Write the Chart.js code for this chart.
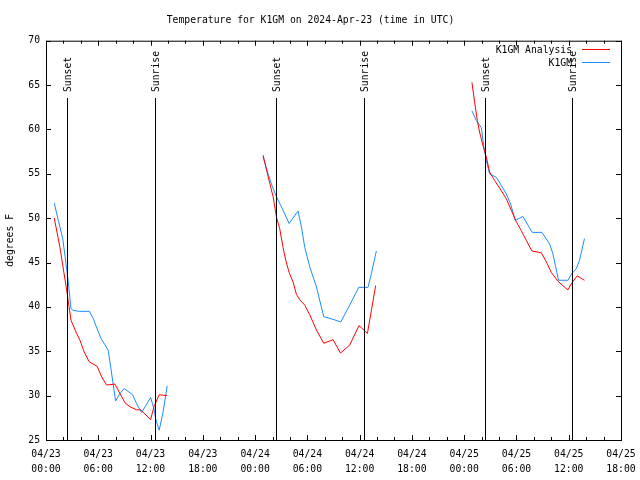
<!DOCTYPE html>
<html>
<head>
<meta charset="utf-8">
<script src="https://cdn.jsdelivr.net/npm/chart.js@4.4.1/dist/chart.umd.min.js"></script>
<style>
  html, body { margin: 0; background: #fff; }
  #wrap { width: 640px; height: 480px; }
</style>
</head>
<body>
<div id="wrap"><canvas id="tempChart" width="640" height="480"></canvas></div>
<script>
const FONT = '"DejaVu Sans Mono", monospace';

// time = hours since 04/23 00:00 UTC, null temp = gap between runs
const anaTimes = [0.95, 1.6, 2.37, 2.87, 3.52, 3.90, 4.39, 4.97, 5.88, 6.39, 6.96, 7.91, 8.49, 9.06, 9.63, 10.40, 10.86, 12.01, 12.39, 12.99, 13.91,
  18,
  24.92, 25.31, 25.69, 26.07, 26.46, 26.83, 27.21, 27.52, 27.90, 28.36, 28.75, 29.13, 29.70, 30.28, 31.04, 31.88, 32.95, 33.80, 34.86, 35.93, 36.89, 37.35, 37.84,
  44,
  48.89, 49.20, 49.51, 49.77, 50.15, 50.54, 50.92, 51.49, 52.26, 52.83, 53.41, 53.98, 54.55, 55.13, 55.77, 56.85, 57.42, 57.99, 58.75, 59.90, 60.29, 60.97, 61.81];
const anaTemps = [50.0, 46.7, 41.9, 38.5, 37.0, 36.25, 34.9, 33.8, 33.3, 32.1, 31.2, 31.3, 30.25, 29.2, 28.75, 28.4, 28.4, 27.3, 28.75, 30.1, 30.0,
  null,
  57.1, 55.45, 53.9, 52.4, 50.1, 48.8, 46.7, 45.25, 43.9, 42.8, 41.4, 40.8, 40.2, 39.1, 37.4, 35.9, 36.3, 34.8, 35.7, 37.9, 37.0, 39.6, 42.4,
  null,
  65.3, 63.05, 61.0, 59.7, 58.2, 56.9, 55.2, 54.25, 53.1, 52.2, 50.9, 49.6, 48.6, 47.5, 46.3, 46.1, 45.1, 43.9, 42.9, 41.9, 42.6, 43.5, 43.0];

const obsTimes = [0.95, 1.41, 1.92, 2.29, 2.56, 2.87, 3.13, 3.82, 4.97, 5.42, 6.0, 6.39, 6.85, 7.14, 7.42, 7.99, 8.49, 8.98, 9.94, 10.40, 10.97, 11.47, 12.01, 12.42, 12.58, 12.99, 13.45, 13.91,
  18,
  24.92, 25.49, 26.0, 26.46, 27.21, 27.90, 28.93, 29.32, 29.70, 30.28, 31.04, 31.88, 32.95, 33.83, 34.86, 35.89, 36.96, 37.35, 37.92,
  44,
  48.89, 49.39, 49.97, 50.26, 50.54, 50.92, 51.69, 52.26, 52.83, 53.33, 53.86, 54.74, 55.81, 56.92, 57.80, 58.18, 58.83, 59.90, 60.36, 60.86, 61.24, 61.81];
const obsTemps = [51.7, 49.75, 47.7, 44.9, 42.8, 39.8, 39.6, 39.5, 39.5, 38.7, 37.2, 36.3, 35.6, 35.1, 33.25, 29.4, 30.25, 30.8, 30.1, 29.1, 28.1, 28.9, 29.8, 28.4, 27.4, 26.1, 28.2, 31.1,
  null,
  56.9, 55.0, 53.5, 52.4, 50.9, 49.4, 50.8, 49.0, 46.7, 44.5, 42.25, 38.9, 38.6, 38.3, 40.2, 42.2, 42.2, 43.75, 46.3,
  null,
  62.1, 61.0, 60.2, 58.0, 56.5, 55.0, 54.6, 53.7, 52.75, 51.6, 49.75, 50.2, 48.4, 48.4, 47.1, 46.0, 43.0, 43.0, 43.75, 44.3, 45.25, 47.7];

const eventTimes = [2.44, 12.53, 26.41, 36.5, 50.38, 60.36];
const eventLabels = ['Sunset', 'Sunrise', 'Sunset', 'Sunrise', 'Sunset', 'Sunrise'];
const dayLabels = ['04/23', '04/24', '04/25'];
const seriesNames = ['K1GM Analysis', 'K1GM'];
const seriesColors = ['#ff0000', '#1a8cff'];

const toPoints = (times, temps) => times.map((t, i) => ({ x: t, y: temps[i] }));

// gnuplot style frame, inward ticks, sun lines and legend
const gnuplotDecor = {
  id: 'gnuplotDecor',
  afterDatasetsDraw(chart) {
    const { ctx, chartArea: a, scales: { x, y } } = chart;
    ctx.save();
    ctx.strokeStyle = '#000';
    ctx.lineWidth = 1;
    ctx.strokeRect(a.left + 0.5, a.top + 0.5, a.right - a.left, a.bottom - a.top);

    ctx.beginPath();
    for (let h = 0; h <= 66; h += 2) {
      const px = Math.round(x.getPixelForValue(h)) + 0.5;
      const len = h % 6 === 0 ? 5 : 3;
      ctx.moveTo(px, a.bottom); ctx.lineTo(px, a.bottom - len);
      ctx.moveTo(px, a.top); ctx.lineTo(px, a.top + len);
    }
    for (let v = 25; v <= 70; v += 5) {
      const py = Math.round(y.getPixelForValue(v)) + 0.5;
      ctx.moveTo(a.left, py); ctx.lineTo(a.left + 5, py);
      ctx.moveTo(a.right, py); ctx.lineTo(a.right - 5, py);
    }
    ctx.stroke();

    // sunrise / sunset markers
    ctx.font = '9.75px ' + FONT;
    ctx.fillStyle = '#000';
    eventTimes.forEach((t, i) => {
      const px = Math.round(x.getPixelForValue(t)) + 0.5;
      ctx.beginPath();
      ctx.moveTo(px, 98); ctx.lineTo(px, a.bottom);
      ctx.stroke();
      ctx.save();
      ctx.translate(px + 0.5, 92);
      ctx.rotate(-Math.PI / 2);
      ctx.textAlign = 'left';
      ctx.textBaseline = 'middle';
      ctx.fillText(eventLabels[i], 0, 0);
      ctx.restore();
    });

    // legend
    ctx.textAlign = 'right';
    ctx.textBaseline = 'middle';
    seriesNames.forEach((name, i) => {
      const ly = 50 + i * 13;
      ctx.fillStyle = '#000';
      ctx.fillText(name, 572, ly);
      ctx.strokeStyle = seriesColors[i];
      ctx.beginPath();
      ctx.moveTo(582, ly - 0.5); ctx.lineTo(610, ly - 0.5);
      ctx.stroke();
    });
    ctx.restore();
  }
};

new Chart(document.getElementById('tempChart'), {
  type: 'line',
  data: {
    datasets: [
      { label: seriesNames[0], data: toPoints(anaTimes, anaTemps), borderColor: seriesColors[0], borderWidth: 1, pointRadius: 0, spanGaps: false, tension: 0 },
      { label: seriesNames[1], data: toPoints(obsTimes, obsTemps), borderColor: seriesColors[1], borderWidth: 1, pointRadius: 0, spanGaps: false, tension: 0 },
    ],
  },
  options: {
    responsive: false,
    animation: false,
    devicePixelRatio: 1,
    layout: { padding: { left: 0, right: 19, top: 0, bottom: 0 } },
    plugins: {
      legend: { display: false },
      tooltip: { enabled: false },
      title: {
        display: true,
        text: 'Temperature for K1GM on 2024-Apr-23 (time in UTC)',
        color: '#000',
        font: { family: FONT, size: 9.75, weight: 'normal', lineHeight: 1.2 },
        padding: { top: 15, bottom: 14 },
      },
    },
    scales: {
      x: {
        type: 'linear',
        min: 0,
        max: 66,
        grid: { display: false, drawTicks: false },
        border: { display: false },
        ticks: {
          stepSize: 6,
          autoSkip: false,
          maxRotation: 0,
          padding: 7.5,
          color: '#000',
          font: { family: FONT, size: 9.75, lineHeight: 1.5 },
          callback: (v) => [dayLabels[Math.floor(v / 24)], String(v % 24).padStart(2, '0') + ':00'],
        },
        afterFit: (s) => { s.height = 40; s.paddingRight = 0; s.paddingLeft = 0; },
      },
      y: {
        min: 25,
        max: 70,
        grid: { display: false, drawTicks: false },
        border: { display: false },
        ticks: { stepSize: 5, padding: 6, color: '#000', font: { family: FONT, size: 9.75 } },
        title: {
          display: true,
          text: 'degrees F',
          color: '#000',
          font: { family: FONT, size: 9.75, lineHeight: 1.2 },
          padding: { top: 5, bottom: 0 },
        },
        afterFit: (s) => { s.width = 46; },
      },
    },
  },
  plugins: [gnuplotDecor],
});
</script>
</body>
</html>
